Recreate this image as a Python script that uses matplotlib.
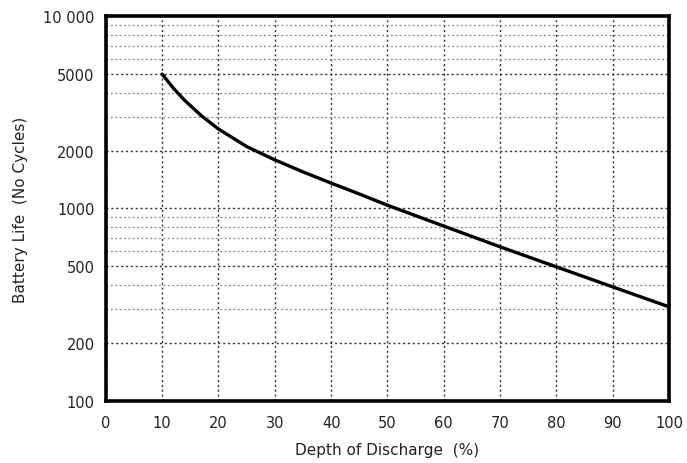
import numpy as np
import matplotlib.pyplot as plt
from matplotlib.ticker import FixedLocator, NullFormatter

# values
depth = [10, 12, 14, 17, 20, 25, 30, 35, 40, 45, 50, 60, 70, 80, 90, 100]
cycles = [5000, 4220, 3650, 3030, 2590, 2100, 1790, 1550, 1355, 1190, 1040,
          810, 632, 497, 391, 308]

x_ticks = list(range(0, 101, 10))
y_ticks = [100, 200, 500, 1000, 2000, 5000, 10000]
y_labels = ["100", "200", "500", "1000", "2000", "5000", "10 000"]

plt.rcParams['font.family'] = ['DejaVu Sans']

fig = plt.figure(figsize=(6.87, 4.64), dpi=100)
ax = fig.add_axes([0.154, 0.134, 0.82, 0.829])

ax.plot(depth, cycles, color="black", linewidth=2.4, zorder=3,
        solid_capstyle="round", solid_joinstyle="round")

ax.set_yscale("log")
ax.set_xlim(0, 100)
ax.set_ylim(100, 10000)
ax.set_xticks(x_ticks)
ax.set_yticks(y_ticks)
ax.set_yticklabels(y_labels)
minor = [m * d for d in (100, 1000) for m in range(2, 10)]
ax.yaxis.set_minor_locator(FixedLocator(minor))
ax.yaxis.set_minor_formatter(NullFormatter())

# dotted grid like the scanned datasheet
ax.grid(True, which="major", axis="both", color="#333333", linestyle=(0, (1.5, 2)), linewidth=1.0)
ax.grid(True, which="minor", axis="y", color="#888888", linestyle=(0, (1.5, 2)), linewidth=0.9)

ax.tick_params(axis="both", which="both", length=0, labelsize=10.5, colors="#222222")
ax.tick_params(axis="x", pad=10)
ax.tick_params(axis="y", pad=8)
for s in ax.spines.values():
    s.set_linewidth(2.6)

ax.set_xlabel("Depth of Discharge  (%)", fontsize=11, color="#222222", labelpad=9)
ax.set_ylabel("Battery Life  (No Cycles)", fontsize=11, color="#222222", labelpad=11)

fig.savefig("out.png", dpi=100)
